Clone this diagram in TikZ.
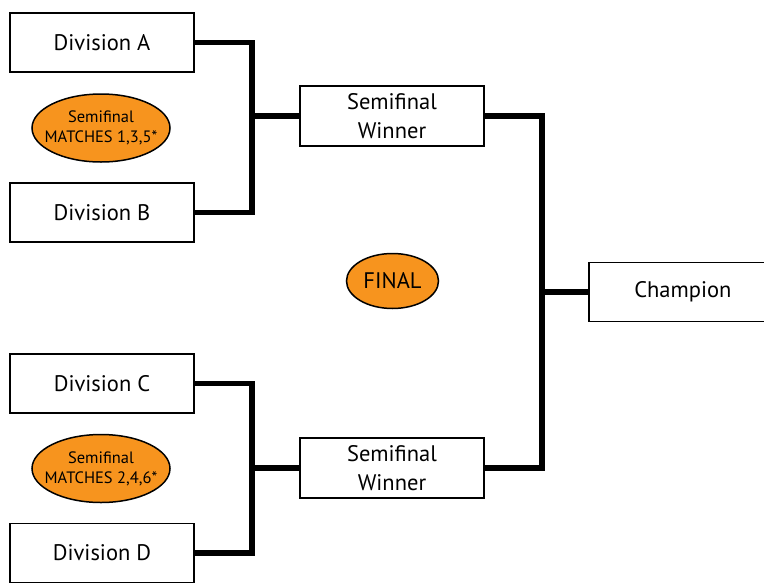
\documentclass[tikz,border=0pt]{standalone}
\usepackage{fontspec}
\setmainfont{PT Sans}
\usetikzlibrary{shapes.geometric}
\definecolor{orng}{HTML}{F7941E}
\begin{document}
\begin{tikzpicture}[x=1pt,y=-1pt,
  box/.style={draw=black,line width=1.8pt,fill=white,rectangle,inner sep=0pt,
    font=\fontsize{22.5}{29}\selectfont,align=center},
  oval/.style={draw=black,line width=1.5pt,fill=orng,ellipse,inner sep=-14pt,align=center},
  conn/.style={line width=5.5pt,line join=miter,line cap=butt}]
\clip (0,0) rectangle (764,582);
\fill[white] (0,0) rectangle (764,582);
% boxes
\node[box,minimum width=184pt,minimum height=59pt] (A) at (102,42.5) {Division A};
\node[box,minimum width=184pt,minimum height=59pt] (B) at (102,212.5) {Division B};
\node[box,minimum width=184pt,minimum height=59pt] (C) at (102,383.5) {Division C};
\node[box,minimum width=184pt,minimum height=59pt] (D) at (102,553) {Division D};
\node[box,minimum width=184pt,minimum height=60pt] (S1) at (392,116) {Semifinal\\Winner};
\node[box,minimum width=184pt,minimum height=60pt] (S2) at (392,468) {Semifinal\\Winner};
\node[box,minimum width=178pt,minimum height=59pt,anchor=west] (CH) at (588,292) {\hspace*{10pt}Champion};
% ovals
\node[oval,minimum width=138pt,minimum height=68pt,font=\fontsize{16.5}{20}\selectfont] (E1) at (101,128) {Semifinal\\MATCHES 1,3,5*};
\node[oval,minimum width=138pt,minimum height=68pt,font=\fontsize{16.5}{20}\selectfont] (E2) at (101,468.5) {Semifinal\\MATCHES 2,4,6*};
\node[oval,minimum width=92pt,minimum height=55pt,font=\fontsize{22.5}{26}\selectfont] (F) at (392.5,281) {FINAL};
% junctions
\coordinate (j1) at (252,116);
\coordinate (j2) at (252,468);
\coordinate (j3) at (542,292);
\draw[conn] (A.east) -| (j1) |- (B.east);
\draw[conn] (j1) -- (S1.west);
\draw[conn] (C.east) -| (j2) |- (D.east);
\draw[conn] (j2) -- (S2.west);
\draw[conn] (S1.east) -| (j3) |- (S2.east);
\draw[conn] (j3) -- (CH.west);
\end{tikzpicture}
\end{document}
